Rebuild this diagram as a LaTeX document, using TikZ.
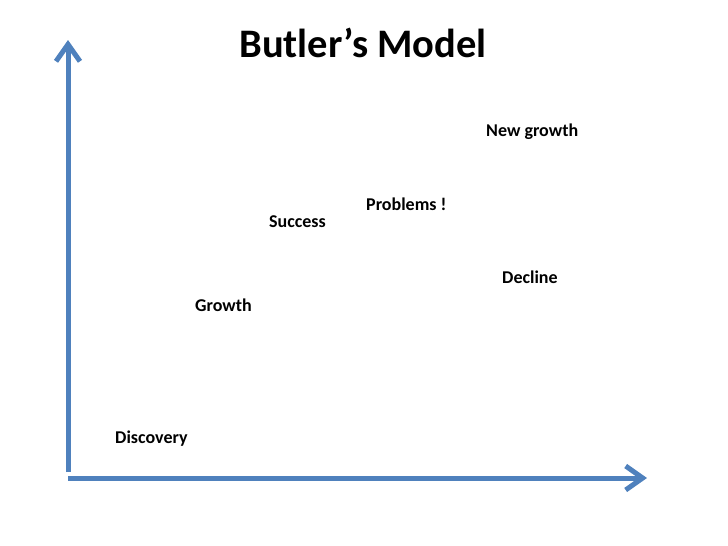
\documentclass[tikz,border=0pt]{standalone}
\usepackage{fontspec}
\setmainfont{Carlito}
\usepackage{xcolor}
\usepackage{tikz}
\usetikzlibrary{arrows.meta, positioning}

\definecolor{axisblue}{HTML}{4F81BD}

\begin{document}
\begin{tikzpicture}[x=1pt, y=-1pt,
    axis/.style={draw=axisblue, line width=5pt,
                 -{Straight Barb[length=17pt, width=24pt, line width=5pt]}},
    stage/.style={anchor=base west, inner sep=0pt, font=\fontsize{18}{20}\selectfont\bfseries}
]
\useasboundingbox (0,0) rectangle (728,546);
\node[anchor=base, inner sep=0pt, font=\fontsize{40.5}{46}\selectfont\bfseries] (title) at (363,57) {Butler’s Model};
% axes
\coordinate (ybot) at (68,472);
\coordinate (ytop) at (68,40);
\coordinate (xleft) at (68,478);
\coordinate (xright) at (647,478);
\draw[axis] (ybot) -- (ytop);
\draw[axis] (xleft) -- (xright);
% stages
\node[stage] (newgrowth) at (486,136) {New growth};
\node[stage] (problems) at (366,210) {Problems !};
\node[stage] (success) at (269,227) {Success};
\node[stage] (decline) at (502,283) {Decline};
\node[stage] (growth) at (195,311) {Growth};
\node[stage] (discovery) at (115,443) {Discovery};
\end{tikzpicture}
\end{document}
